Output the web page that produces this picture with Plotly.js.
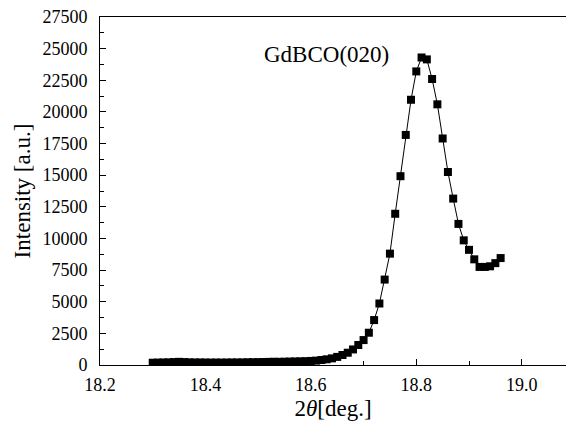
<!DOCTYPE html>
<html>
<head>
<meta charset="utf-8">
<script src="https://cdn.plot.ly/plotly-3.0.1.min.js"></script>
<style>html,body{margin:0;padding:0;background:#fff;}#chart{width:566px;height:421px;}</style>
</head>
<body>
<div id="chart"></div>
<script>
// 2-theta angles (deg)
var twoTheta = [
  18.30, 18.31, 18.32, 18.33, 18.34, 18.35, 18.36, 18.37, 18.38, 18.39,
  18.40, 18.41, 18.42, 18.43, 18.44, 18.45, 18.46, 18.47, 18.48, 18.49,
  18.50, 18.51, 18.52, 18.53, 18.54, 18.55, 18.56, 18.57, 18.58, 18.59,
  18.60, 18.61, 18.62, 18.63, 18.64, 18.65, 18.66, 18.67, 18.68, 18.69,
  18.70, 18.71, 18.72, 18.73, 18.74, 18.75, 18.76, 18.77, 18.78, 18.79,
  18.80, 18.81, 18.82, 18.83, 18.84, 18.85, 18.86, 18.87, 18.88, 18.89,
  18.90, 18.91, 18.92, 18.93, 18.94, 18.95, 18.96
];
// Intensity (a.u.)
var intensity = [
  180, 190, 200, 210, 230, 250, 230, 210, 200, 200,
  195, 190, 195, 190, 195, 200, 200, 205, 215, 220,
  225, 235, 245, 255, 250, 260, 270, 280, 290, 300,
  320, 345, 395, 450, 525, 640, 790, 970, 1230, 1580,
  1970, 2550, 3550, 4860, 6750, 8800, 11950, 14920, 18180, 20960,
  23200, 24300, 24150, 22600, 20600, 17900, 15250, 13150, 11150, 9850,
  9100, 8350, 7750, 7750, 7800, 8050, 8450
];
var yTickVals = [0, 2500, 5000, 7500, 10000, 12500, 15000, 17500, 20000, 22500, 25000, 27500];
var yTickText = ["0", "2500", "5000", "7500", "10000", "12500", "15000", "17500", "20000", "22500", "25000", "27500"];
var xTickVals = [18.2, 18.4, 18.6, 18.8, 19.0];
var xTickText = ["18.2", "18.4", "18.6", "18.8", "19.0"];
var peakLabel = "GdBCO(020)";

var serif = "Liberation Serif, Times New Roman, serif";
var trace = {
  x: twoTheta, y: intensity, type: "scatter", mode: "lines+markers",
  line: {color: "#000", width: 1},
  marker: {symbol: "square", size: 8, color: "#000"},
  showlegend: false, hoverinfo: "skip"
};
var layout = {
  width: 566, height: 421,
  margin: {l: 100, r: 0, t: 17, b: 56},
  paper_bgcolor: "#fff", plot_bgcolor: "#fff",
  font: {family: serif, color: "#000"},
  xaxis: {
    range: [18.2, 19.084], tickvals: xTickVals, ticktext: xTickText,
    ticks: "inside", ticklen: 6, tickwidth: 1, tickcolor: "#000",
    minor: {dtick: 0.1, tick0: 18.3, ticks: "inside", ticklen: 4, tickcolor: "#000", showgrid: false},
    showline: true, linecolor: "#000", linewidth: 1, mirror: true,
    showgrid: false, zeroline: false, ticklabelstandoff: 3,
    tickfont: {family: serif, size: 18, color: "#000"},
    title: {text: "2<i>θ</i>[deg.]", font: {family: serif, size: 23, color: "#000"}, standoff: 6}
  },
  yaxis: {
    range: [0, 27500], tickvals: yTickVals, ticktext: yTickText,
    ticks: "inside", ticklen: 6, tickwidth: 1, tickcolor: "#000",
    minor: {dtick: 1250, tick0: 0, ticks: "inside", ticklen: 4, tickcolor: "#000", showgrid: false},
    showline: true, linecolor: "#000", linewidth: 1,
    showgrid: false, zeroline: false, ticklabelstandoff: 8,
    tickfont: {family: serif, size: 18, color: "#000"},
    title: {text: "Intensity [a.u.]", font: {family: serif, size: 23, color: "#000"}, standoff: 5}
  },
  annotations: [{
    text: peakLabel, xref: "paper", yref: "paper", x: 0.487, y: 0.893,
    xanchor: "center", yanchor: "middle", showarrow: false,
    font: {family: serif, size: 23, color: "#000"}
  }]
};
Plotly.newPlot("chart", [trace], layout, {staticPlot: true, displayModeBar: false});
</script>
</body>
</html>
